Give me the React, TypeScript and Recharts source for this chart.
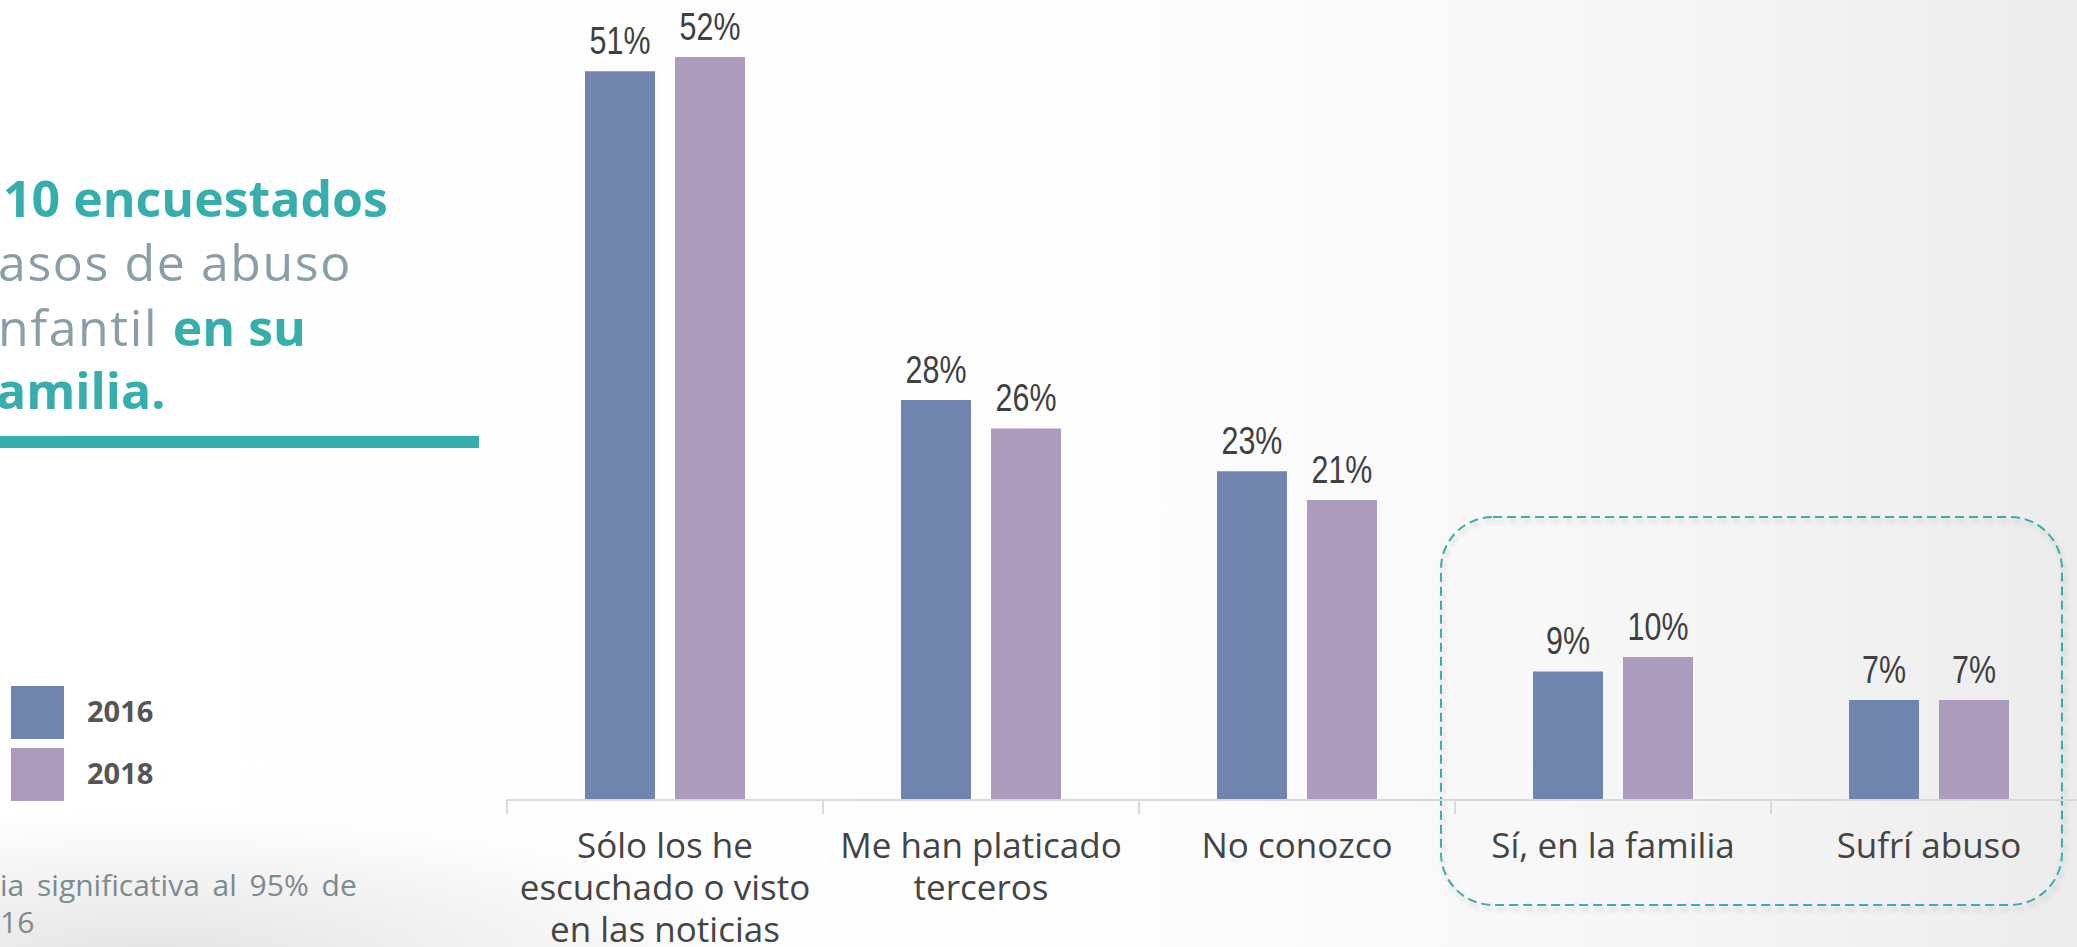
import { BarChart, Bar, XAxis, YAxis, LabelList } from 'recharts';

const categories = [
  ['Sólo los he', 'escuchado o visto', 'en las noticias'],
  ['Me han platicado', 'terceros'],
  ['No conozco'],
  ['Sí, en la familia'],
  ['Sufrí abuso'],
];
const values2016 = [51, 28, 23, 9, 7];
const values2018 = [52, 26, 21, 10, 7];
const seriesNames = ['2016', '2018'];
const seriesColors = ['#7184ae', '#ab9cbd'];

const data = categories.map((lines, i) => ({
  name: lines.join(' '),
  y2016: values2016[i],
  y2018: values2018[i],
}));

const CHART_W = 2090;
const CHART_H = 947;
const AXIS_H = 30;
const MARGIN = { top: 57, right: 3, left: 507, bottom: 147 - AXIS_H };
const BAND = (CHART_W - MARGIN.left - MARGIN.right) / categories.length;

const teal = '#36aeac';
const grayText = '#8a9ea8';

function CategoryTick(props: any) {
  const { x, y, index } = props;
  const lines: string[] = categories[index] || [];
  const left = x - BAND / 2;
  return (
    <g>
      <line x1={left} x2={left} y1={y} y2={y + 14} stroke="#d9d9d9" strokeWidth={2} />
      <text
        x={x}
        y={y + 58}
        textAnchor="middle"
        fill="#444"
        style={{ fontFamily: '"Open Sans", sans-serif', fontSize: 35 }}
      >
        {lines.map((l, i) => (
          <tspan key={i} x={x} dy={i === 0 ? 0 : 42}>
            {l}
          </tspan>
        ))}
      </text>
    </g>
  );
}

// narrow value label: Liberation Sans squeezed horizontally
function ValueLabel(props: any) {
  const { x, y, width, value } = props;
  const cx = x + width / 2;
  const by = y - 17;
  return (
    <text
      x={cx}
      y={by}
      textAnchor="middle"
      fill="#404040"
      transform={`translate(${cx} ${by}) scale(0.8 1) translate(${-cx} ${-by})`}
      style={{ fontFamily: '"Liberation Sans", Arial, sans-serif', fontSize: 38 }}
    >
      {`${value}%`}
    </text>
  );
}

export default function App() {
  return (
    <div
      style={{
        position: 'fixed',
        left: 0,
        top: 0,
        width: 2077,
        height: 947,
        overflow: 'hidden',
        background:
          'radial-gradient(ellipse 620px 150px at 150px 960px, rgba(226,226,226,0.95), rgba(255,255,255,0) 100%), linear-gradient(to right, #ffffff 0%, #fdfdfd 55%, #f6f6f6 80%, #ececec 100%)',
      }}
    >
      {/* title, clipped at the left edge as in the slide */}
      <div style={{ position: 'absolute', left: 0, top: 0, fontFamily: '"Open Sans", sans-serif', fontSize: 50 }}>
        <div style={{ position: 'absolute', left: 3, top: 218 - 54, whiteSpace: 'nowrap', color: teal, fontWeight: 700 }}>
          10 encuestados
        </div>
        <div style={{ position: 'absolute', left: -2, top: 282 - 54, whiteSpace: 'nowrap', color: grayText, letterSpacing: 1.6 }}>
          asos de abuso
        </div>
        <div style={{ position: 'absolute', left: -2, top: 347 - 54, whiteSpace: 'nowrap', color: grayText, letterSpacing: 1.6 }}>
          nfantil <span style={{ color: teal, fontWeight: 700, letterSpacing: 0 }}>en su</span>
        </div>
        <div style={{ position: 'absolute', left: -4, top: 410 - 54, whiteSpace: 'nowrap', color: teal, fontWeight: 700 }}>
          amilia.
        </div>
      </div>
      <div style={{ position: 'absolute', left: 0, top: 436, width: 479, height: 12, background: teal }} />

      {/* legend */}
      {seriesNames.map((s, i) => (
        <div key={s} style={{ position: 'absolute', left: 8, top: 683 + i * 62, width: 185, height: 59, background: 'rgba(255,255,255,0.6)' }}>
          <div style={{ position: 'absolute', left: 3, top: 3, width: 53, height: 53, background: seriesColors[i] }} />
          <div
            style={{
              position: 'absolute',
              left: 79,
              top: 8,
              fontFamily: '"Open Sans", sans-serif',
              fontWeight: 700,
              fontSize: 29,
              color: '#555',
              lineHeight: '40px',
            }}
          >
            {s}
          </div>
        </div>
      ))}

      {/* footnote */}
      <div
        style={{
          position: 'absolute',
          left: 0,
          top: 866,
          fontFamily: '"Open Sans", sans-serif',
          fontSize: 30,
          lineHeight: '37px',
          color: '#7d8a90',
          whiteSpace: 'nowrap',
          wordSpacing: 5,
        }}
      >
        <div>ia significativa al 95% de</div>
        <div>16</div>
      </div>

      {/* dashed highlight around the last two categories */}
      <svg style={{ position: 'absolute', left: 1436, top: 512 }} width={634} height={402}>
        <defs>
          <filter id="sh" x="-5%" y="-5%" width="110%" height="110%">
            <feDropShadow dx="2" dy="4" stdDeviation="2.5" floodColor="#000" floodOpacity="0.18" />
          </filter>
        </defs>
        <rect
          x={5}
          y={5}
          width={621}
          height={388}
          rx={52}
          ry={52}
          fill="none"
          stroke="#3aaeac"
          strokeWidth={2}
          strokeDasharray="9 5"
          filter="url(#sh)"
        />
      </svg>

      <div style={{ position: 'absolute', left: 0, top: 0 }}>
        <BarChart width={CHART_W} height={CHART_H} data={data} margin={MARGIN} barGap={20} barSize={70}>
          <XAxis
            dataKey="name"
            height={AXIS_H}
            axisLine={{ stroke: '#d9d9d9', strokeWidth: 2 }}
            tickLine={false}
            tickSize={0}
            tickMargin={0}
            interval={0}
            tick={<CategoryTick />}
          />
          <YAxis hide domain={[0, 52]} />
          <Bar dataKey="y2016" fill={seriesColors[0]} isAnimationActive={false}>
            <LabelList dataKey="y2016" content={<ValueLabel />} />
          </Bar>
          <Bar dataKey="y2018" fill={seriesColors[1]} isAnimationActive={false}>
            <LabelList dataKey="y2018" content={<ValueLabel />} />
          </Bar>
        </BarChart>
      </div>
    </div>
  );
}
